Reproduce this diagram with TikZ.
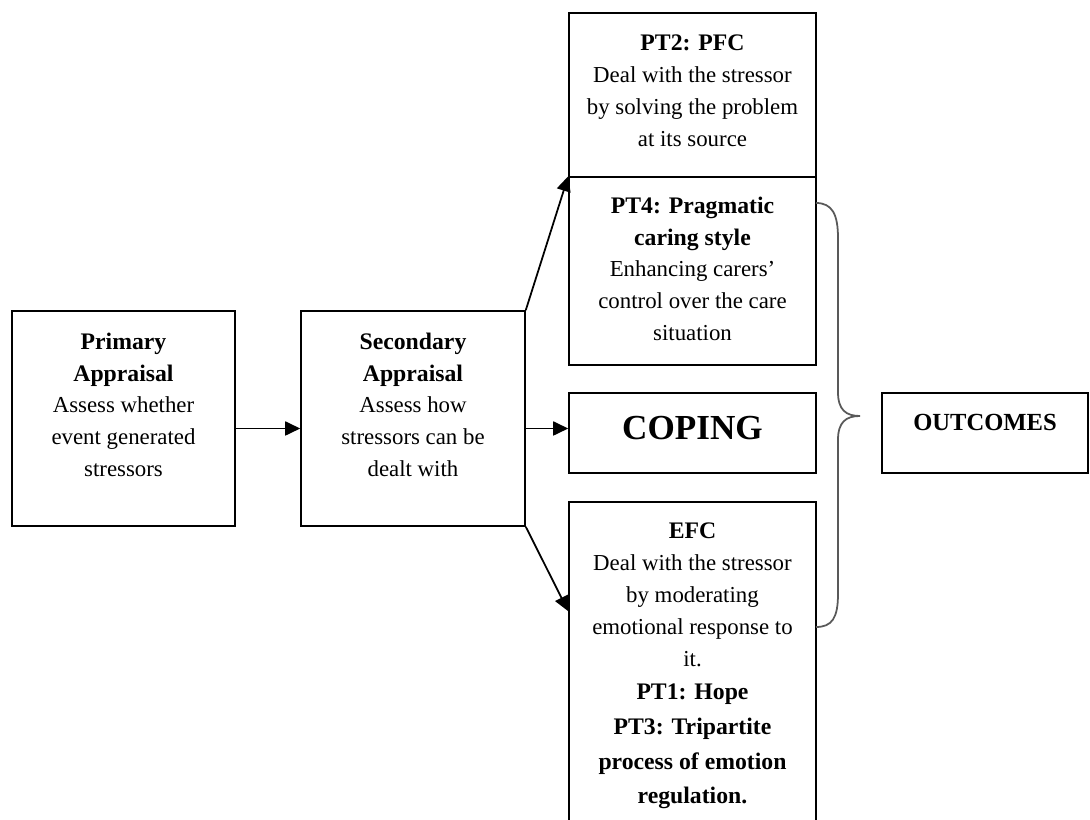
\documentclass[tikz,border=0pt]{standalone}
\usepackage{fontspec}
\setmainfont{Liberation Serif}
\usetikzlibrary{positioning,arrows.meta,calc}

\begin{document}
\begin{tikzpicture}[
  x=0.02cm, y=-0.02cm,
  font=\fontsize{13}{18.2}\selectfont,
  >={Triangle[length=3mm,width=2.8mm]},
  stagebox/.style={draw=black, line width=0.9pt, inner sep=0pt},
  stagetext/.style={align=center, inner sep=0pt, anchor=north},
  flowarrow/.style={->, draw=black, line width=1pt},
  bracepath/.style={draw=black!65, line width=1pt}
]
  \useasboundingbox (0,0) rectangle (1090,820);
  % boxes
  \node[stagebox, minimum width=4.46cm, minimum height=4.30cm] (primbox) at (123.5,418.5) {};
  \node[stagebox, minimum width=4.48cm, minimum height=4.30cm] (secbox) at (413,418.5) {};
  \node[stagebox, minimum width=4.94cm, minimum height=3.28cm] (pfcbox) at (692.5,95) {};
  \node[stagebox, minimum width=4.94cm, minimum height=3.76cm] (pragbox) at (692.5,271) {};
  \node[stagebox, minimum width=4.94cm, minimum height=1.60cm] (copebox) at (692.5,433) {};
  \node[stagebox, minimum width=4.94cm, minimum height=6.56cm] (efcbox) at (692.5,666) {};
  \node[stagebox, minimum width=4.12cm, minimum height=1.60cm] (outbox) at (985,433) {};
  % texts
  \node[stagetext] (primtext) at ([yshift=-4.4mm]primbox.north)
    {\textbf{\fontsize{13.5}{18.5}\selectfont Primary}\\ \textbf{\fontsize{13.5}{18.5}\selectfont Appraisal}\\ Assess whether\\ event generated\\ stressors};
  \node[stagetext] (sectext) at ([yshift=-4.4mm]secbox.north)
    {\textbf{\fontsize{13.5}{18.5}\selectfont Secondary}\\ \textbf{\fontsize{13.5}{18.5}\selectfont Appraisal}\\ Assess how\\ stressors can be\\ dealt with};
  \node[stagetext] (pfctext) at ([yshift=-4.4mm]pfcbox.north)
    {\textbf{\fontsize{13.5}{18.5}\selectfont PT2: PFC}\\ Deal with the stressor\\ by solving the problem\\ at its source};
  \node[stagetext] (pragtext) at ([yshift=-4.0mm]pragbox.north)
    {\textbf{\fontsize{13.5}{18.5}\selectfont PT4: Pragmatic}\\ \textbf{\fontsize{13.5}{18.5}\selectfont caring style}\\ Enhancing carers’\\ control over the care\\ situation};
  \node[font=\fontsize{20}{24}\selectfont\bfseries, inner sep=0pt] (copetext) at ([yshift=1mm]copebox.center) {COPING};
  \node[font=\fontsize{14}{17}\selectfont\bfseries, inner sep=0pt] (outtext) at ([yshift=2.2mm]outbox.center) {OUTCOMES};
  \node[stagetext] (efctext) at ([yshift=-4.2mm]efcbox.north)
    {\textbf{\fontsize{13.5}{18.5}\selectfont EFC}\\ Deal with the stressor\\ by moderating\\ emotional response to\\ it.\\[1pt]
     \textbf{\fontsize{13.5}{19}\selectfont PT1: Hope}\\[1.5pt] \textbf{\fontsize{13.5}{19}\selectfont PT3: Tripartite}\\[1.5pt]
     \textbf{\fontsize{13.5}{19}\selectfont process of emotion}\\[1.5pt] \textbf{\fontsize{13.5}{19}\selectfont regulation.}};
  % arrows
  \draw[flowarrow] ([yshift=-2mm]primbox.east) coordinate (pa) -- (pa -| secbox.west);
  \draw[flowarrow] ([yshift=-2mm]secbox.east) coordinate (sa) -- (sa -| copebox.west);
  \draw[flowarrow] (secbox.north east) -- (pragbox.north west);
  \draw[flowarrow] (secbox.south east) -- ([yshift=-22mm]efcbox.north west);
  % brace
  \draw[bracepath] (816,203) .. controls (832,203) and (838,214) .. (838,238) -- (838,392)
    .. controls (838,410) and (846,416) .. (860,416)
    .. controls (846,416) and (838,422) .. (838,440) -- (838,594)
    .. controls (838,618) and (832,627) .. (816,627);
\end{tikzpicture}
\end{document}
